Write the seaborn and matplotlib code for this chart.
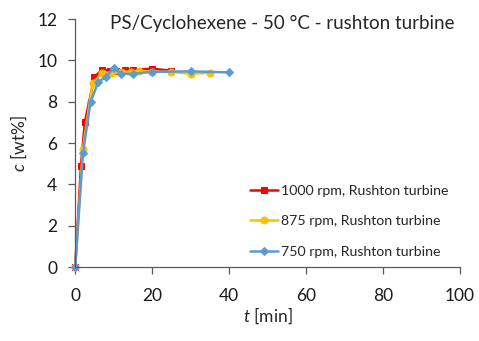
import matplotlib
matplotlib.use("Agg")
import matplotlib.pyplot as plt
import seaborn as sns
import pandas as pd

t_1000 = [0, 1.5, 2.5, 5, 7, 9, 10.5, 13, 15, 20, 25]
c_1000 = [0, 4.9, 7.0, 9.2, 9.55, 9.5, 9.5, 9.55, 9.55, 9.6, 9.5]
t_875 = [0, 2, 4.5, 7, 9.5, 12, 14.5, 16.5, 20, 25, 30, 35]
c_875 = [0, 5.7, 8.9, 9.4, 9.4, 9.45, 9.45, 9.5, 9.45, 9.45, 9.35, 9.4]
t_750 = [0, 2, 4, 6, 8, 10, 12, 15, 20, 30, 40]
c_750 = [0, 5.5, 8.0, 8.95, 9.2, 9.65, 9.35, 9.35, 9.45, 9.47, 9.42]

labels = ["1000 rpm, Rushton turbine", "875 rpm, Rushton turbine", "750 rpm, Rushton turbine"]
colors = ["#FF0000", "#FFC000", "#5B9BD5"]
markers = ["s", "o", "D"]
msizes = [5, 5, 4]

sns.set_theme(style="ticks")
plt.rcParams['font.family'] = ['Lato', 'DejaVu Sans']
plt.rcParams['mathtext.fontset'] = 'custom'
plt.rcParams['mathtext.it'] = 'Lato:italic'
plt.rcParams['mathtext.rm'] = 'Lato'

fig = plt.figure(figsize=(4.79, 3.41), dpi=100)
ax = fig.add_axes([0.157, 0.217, 0.803, 0.727])

for t, c, lab, col, mk, ms in zip([t_1000, t_875, t_750], [c_1000, c_875, c_750],
                                  labels, colors, markers, msizes):
    df = pd.DataFrame({"t": t, "c": c})
    sns.lineplot(data=df, x="t", y="c", ax=ax, color=col, marker=mk, markersize=ms,
                 markeredgecolor=col, linewidth=1.8, label=lab, sort=False)

ax.set_xlim(0, 100)
ax.set_ylim(0, 12)
ax.set_xticks(range(0, 101, 20))
ax.set_yticks(range(0, 13, 2))
for s in ["top", "right"]:
    ax.spines[s].set_visible(False)
for s in ["left", "bottom"]:
    ax.spines[s].set_color("#595959")
    ax.spines[s].set_linewidth(0.9)
ax.tick_params(axis="both", labelsize=12.5, colors="#595959", labelcolor="#1a1a1a",
               length=5, width=0.9)
ax.tick_params(axis="y", pad=8)
ax.tick_params(axis="x", pad=10)
ax.set_xlabel(r"$t$ [min]", fontsize=12.5, labelpad=1)
ax.set_ylabel(r"$c$ [wt%]", fontsize=12.5, labelpad=6)
ax.text(0.09, 0.982, "PS/Cyclohexene - 50 °C - rushton turbine", transform=ax.transAxes,
        fontsize=13.5, va="center", ha="left")
leg = ax.legend(loc="center left", bbox_to_anchor=(0.42, 0.185), frameon=False, fontsize=10.2,
                handlelength=2.0, handletextpad=0.2, labelspacing=1.3)
for ln in ax.lines:
    ln.set_clip_on(False)

fig.savefig("out.png", dpi=100)
